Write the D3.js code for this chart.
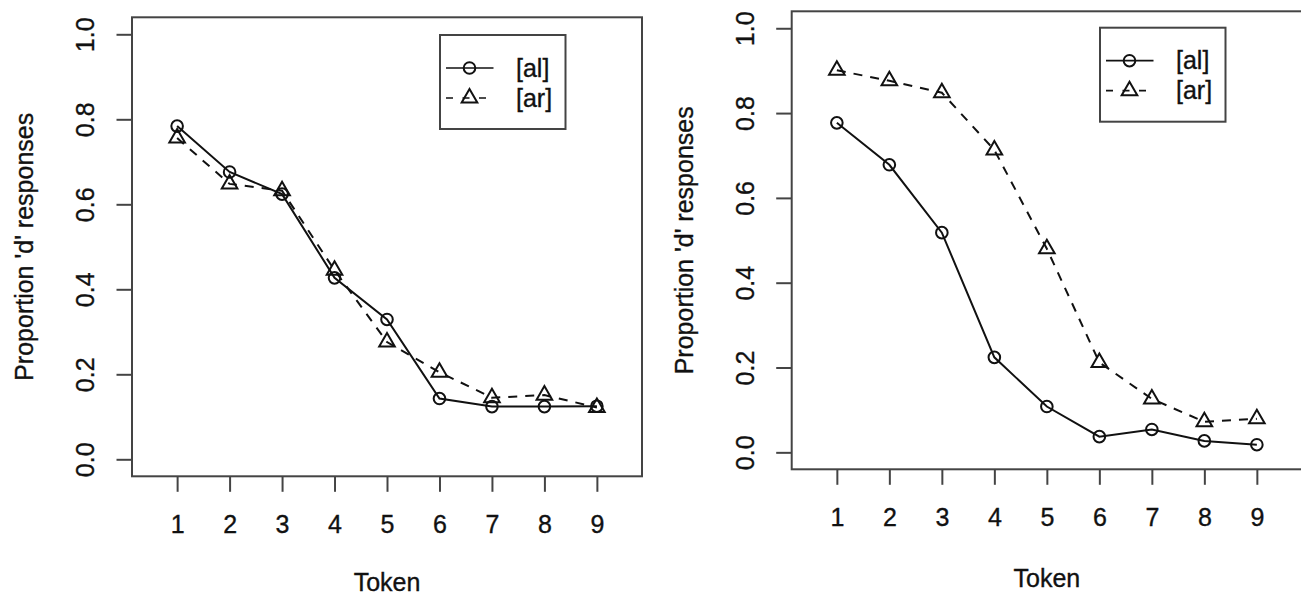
<!DOCTYPE html>
<html>
<head>
<meta charset="utf-8">
<script src="https://cdn.jsdelivr.net/npm/d3@7/dist/d3.min.js"></script>
<style>
  html, body { margin: 0; padding: 0; background: #fff; }
  svg { display: block; }
  text { font-family: "Liberation Sans", Arial, sans-serif; fill: #111; stroke: #111; stroke-width: 0.35px; }
</style>
</head>
<body>
<svg id="chart" width="1301" height="597"></svg>
<script>
// ---- Data ----
const tokens = [1, 2, 3, 4, 5, 6, 7, 8, 9];
const xTickLabels = ["1", "2", "3", "4", "5", "6", "7", "8", "9"];
const yTicks = [0.0, 0.2, 0.4, 0.6, 0.8, 1.0];
const yTickLabels = ["0.0", "0.2", "0.4", "0.6", "0.8", "1.0"];
const seriesNames = ["[al]", "[ar]"];

// Left panel
const leftAl = [0.784, 0.676, 0.624, 0.427, 0.329, 0.143, 0.124, 0.124, 0.125];
const leftAr = [0.756, 0.648, 0.632, 0.445, 0.276, 0.205, 0.145, 0.151, 0.122];
// Right panel
const rightAl = [0.777, 0.678, 0.518, 0.224, 0.108, 0.037, 0.054, 0.027, 0.018];
const rightAr = [0.901, 0.876, 0.848, 0.713, 0.480, 0.212, 0.126, 0.072, 0.079];

const xLabel = "Token";
const yLabel = "Proportion 'd' responses";

// ---- Layout ----
const svg = d3.select("#chart");
const FONT = 25;
const LINE = "#111";
const BOX = "#444";
const SW = 2;

const panels = [
  { left: 132, right: 642, top: 17.3, bottom: 476.3,
    yTitleX: 33.3, yTickX: 85,
    legend: { x: 440, y: 35, w: 125.5, h: 94 },
    al: leftAl, ar: leftAr },
  { left: 791.7, right: 1302, top: 11.3, bottom: 469.3,
    yTitleX: 692.7, yTickX: 745,
    legend: { x: 1100, y: 27.7, w: 125.5, h: 94 },
    al: rightAl, ar: rightAr }
];

const triPath = (r) => {
  const c0 = Math.sqrt(4 * Math.PI / (3 * Math.sqrt(3)));
  const c1 = c0 * Math.sqrt(3) / 2, c2 = c0 / 2;
  return `M0,${-r * c0}L${r * c1},${r * c2}L${-r * c1},${r * c2}Z`;
};
const R = 5.8;

panels.forEach(p => {
  const x = d3.scaleLinear().domain([0.14, 9.86]).range([p.left, p.right]);
  const y = d3.scaleLinear().domain([-0.04, 1.04]).range([p.bottom, p.top]);
  const g = svg.append("g");

  // plot box
  g.append("rect")
    .attr("x", p.left).attr("y", p.top)
    .attr("width", p.right - p.left).attr("height", p.bottom - p.top)
    .attr("fill", "none").attr("stroke", BOX).attr("stroke-width", SW);

  // y axis
  const yAxis = d3.axisLeft(y).tickValues(yTicks).tickSize(15.5)
    .tickFormat((d, i) => yTickLabels[i]);
  const ya = g.append("g").attr("transform", `translate(${p.left},0)`).call(yAxis);
  ya.select(".domain").remove();
  ya.selectAll(".tick line").attr("stroke", BOX).attr("stroke-width", SW);
  ya.selectAll(".tick text")
    .attr("x", null).attr("dy", null)
    .attr("transform", `translate(${p.yTickX - p.left + 0.36 * FONT},0) rotate(-90)`)
    .attr("text-anchor", "middle")
    .style("font-size", FONT + "px").style("font-family", "Liberation Sans, Arial, sans-serif")
    .attr("fill", "#111");

  // x axis
  const xAxis = d3.axisBottom(x).tickValues(tokens).tickSize(15.5)
    .tickFormat((d, i) => xTickLabels[i]);
  const xa = g.append("g").attr("transform", `translate(0,${p.bottom})`).call(xAxis);
  xa.select(".domain").remove();
  xa.selectAll(".tick line").attr("stroke", BOX).attr("stroke-width", SW);
  xa.selectAll(".tick text")
    .attr("y", 56.5).attr("dy", null)
    .style("font-size", FONT + "px").style("font-family", "Liberation Sans, Arial, sans-serif")
    .attr("fill", "#111");

  // axis titles
  g.append("text")
    .attr("x", x(5)).attr("y", Math.min(p.bottom + 117.5, 590.5))
    .attr("text-anchor", "middle").style("font-size", FONT + "px")
    .text(xLabel);
  g.append("text")
    .attr("transform", `translate(${p.yTitleX},${(y(0) + y(1)) / 2}) rotate(-90)`)
    .attr("text-anchor", "middle").style("font-size", FONT + "px")
    .text(yLabel);

  // series
  const line = d3.line().x((d, i) => x(tokens[i])).y(d => y(d));
  g.append("path").datum(p.ar).attr("d", line)
    .attr("fill", "none").attr("stroke", LINE).attr("stroke-width", SW)
    .attr("stroke-dasharray", "9,8");
  g.append("path").datum(p.al).attr("d", line)
    .attr("fill", "none").attr("stroke", LINE).attr("stroke-width", SW);

  g.selectAll(".tri").data(p.ar).enter().append("path")
    .attr("d", triPath(R))
    .attr("transform", (d, i) => `translate(${x(tokens[i])},${y(d)})`)
    .attr("fill", "none").attr("stroke", LINE).attr("stroke-width", SW);
  g.selectAll(".circ").data(p.al).enter().append("circle")
    .attr("cx", (d, i) => x(tokens[i])).attr("cy", d => y(d)).attr("r", R)
    .attr("fill", "none").attr("stroke", LINE).attr("stroke-width", SW);

  // legend
  const L = p.legend;
  const lg = g.append("g");
  lg.append("rect").attr("x", L.x).attr("y", L.y).attr("width", L.w).attr("height", L.h)
    .attr("fill", "#fff").attr("stroke", BOX).attr("stroke-width", SW);
  const rowY = [L.y + 33, L.y + 63];
  const symX = L.x + 29.5;
  const x0 = L.x + 6, x1 = L.x + 53.5;
  lg.append("line").attr("x1", x0).attr("x2", x1).attr("y1", rowY[0]).attr("y2", rowY[0])
    .attr("stroke", LINE).attr("stroke-width", 1.7);
  lg.append("circle").attr("cx", symX).attr("cy", rowY[0]).attr("r", R)
    .attr("fill", "none").attr("stroke", LINE).attr("stroke-width", SW);
  lg.append("line").attr("x1", x0).attr("x2", x1).attr("y1", rowY[1]).attr("y2", rowY[1])
    .attr("stroke", LINE).attr("stroke-width", 1.7).attr("stroke-dasharray", "7,9.5");
  lg.append("path").attr("d", triPath(R))
    .attr("transform", `translate(${symX},${rowY[1]})`)
    .attr("fill", "none").attr("stroke", LINE).attr("stroke-width", SW);
  seriesNames.forEach((nm, i) => {
    lg.append("text").attr("x", L.x + 76).attr("y", rowY[i]).attr("dy", "0.35em")
      .style("font-size", FONT + "px").text(nm);
  });
});
</script>
</body>
</html>
